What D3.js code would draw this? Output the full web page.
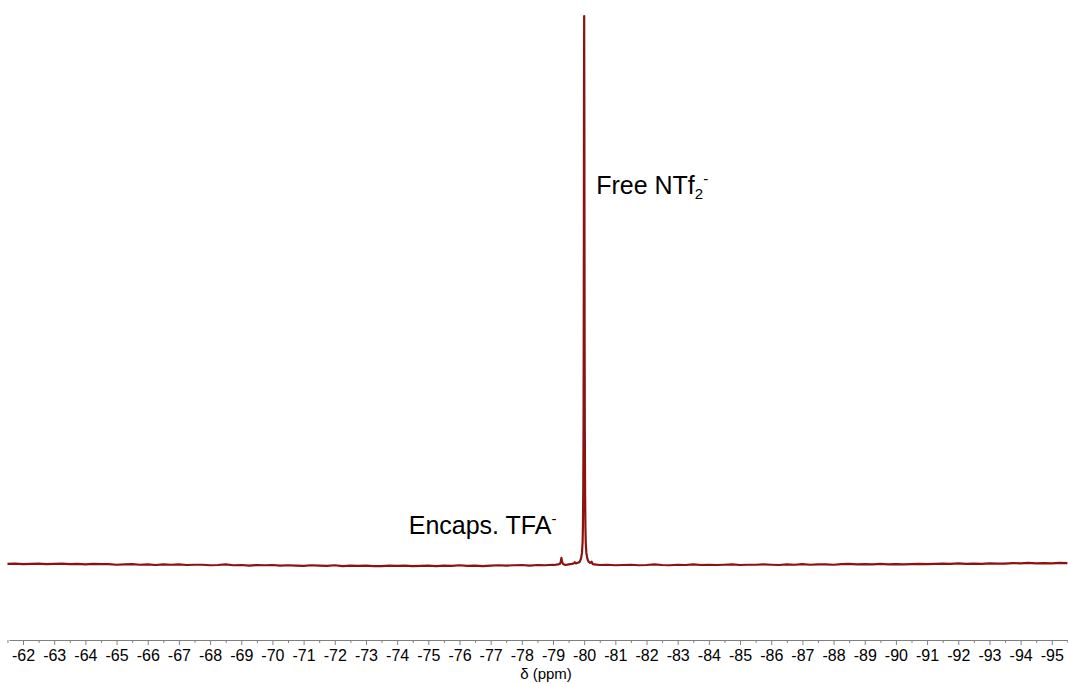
<!DOCTYPE html>
<html>
<head>
<meta charset="utf-8">
<script src="https://cdn.jsdelivr.net/npm/d3@7"></script>
<style>
  html, body { margin: 0; padding: 0; background: #fff; }
  svg { display: block; font-family: "Liberation Sans", Arial, sans-serif; }
</style>
</head>
<body>
<svg id="chart" width="1068" height="684"></svg>
<script>
// 19F NMR spectrum: chemical shift axis (ppm) and relative intensity (main peak = 1000)

// Baseline samples, every 0.25 ppm starting at -61.5 ppm
const baselineStart = -61.5;
const baselineStep = -0.25;
const baselineIntensity = [
  2, 2.5, 1.5, 2, 2.5, 1.5, 2, 2.5,
  1.5, 2, 1, 2, 1.5, 1.5, 0.5, 1,
  1.5, 0.5, 1, 0, 1, 0.5, 1, 0,
  0.5, 0.5, -0.5, 0, 1, -0.5, 0, -1,
  0, -0.5, 0, -1, -0.5, -1, -1.5, -0.5,
  -1, -1.5, -0.5, -2, -1, -1.5, -1, -2,
  -2, -1, -1.5, -1, -2, -1.5, -1, -2,
  -1, -1.5, -0.5, -1.5, -1, -2, -1, -0.5,
  -1, -0.5, 0, -1, 0, -0.5, 0.5, 0,
  0, 0.5, 0, 0, 0, 0.5, -0.5, 0,
  0.5, -0.5, 0, 1, 0, -0.5, 0.5, 0,
  1, 0, 0.5, 0, 0.5, 1, 0, 0.5,
  0.5, 1, 0.5, 0, 1, 0.5, 1.5, 0.5,
  1, 1, 0.5, 1.5, 2, 1, 1.5, 1,
  2, 1, 1.5, 1, 1.5, 2, 1.5, 2,
  2.5, 2, 3, 2, 2.5, 2, 3, 2.5,
  2.5, 3.5, 3, 4, 3, 3.5, 3, 4,
  3.5
];

// Finely sampled signal region (encapsulated TFA- and free NTf2-)
const peakPpm = [
  -79.05, -79.15, -79.22, -79.25, -79.27, -79.29, -79.32, -79.40,
  -79.50, -79.60, -79.67, -79.70, -79.73, -79.80, -79.86, -79.90,
  -79.93, -79.95, -79.96, -79.97, -79.98, -79.985, -79.99, -79.995,
  -80.00,
  -80.005, -80.01, -80.015, -80.02, -80.03, -80.04, -80.05, -80.07,
  -80.10, -80.14, -80.19, -80.22, -80.24, -80.27, -80.32
];
const peakIntensity = [
  0, 1, 2, 6, 13, 6, 2, 0,
  1, 2, 3, 5, 3, 4, 6, 12,
  22, 42, 70, 130, 260, 400, 600, 850,
  1000,
  850, 600, 400, 260, 130, 70, 42, 22,
  12, 6, 4, 5, 6, 2, 1
];

// Axis ticks
const majorTicks = d3.range(-62, -96, -1);
const minorTicks = d3.range(-61.5, -96, -0.5).filter(v => !Number.isInteger(v));

// Signal annotations
const annotations = [
  { text: "Free NTf", sub: "2", sup: "-", ppm: -80.0 },
  { text: "Encaps. TFA", sub: null, sup: "-", ppm: -79.27 }
];

const svg = d3.select("#chart");
const lineColor = "#8c1212";

const x = d3.scaleLinear().domain([-61.55, -95.52]).range([9, 1068]);
const y = d3.scaleLinear().domain([0, 1000]).range([565, 16]);

// Merge baseline and signal region into one trace
const lo = d3.min(peakPpm), hi = d3.max(peakPpm);
const trace = baselineIntensity
  .map((v, i) => ({ ppm: baselineStart + baselineStep * i, v }))
  .filter(d => d.ppm > hi || d.ppm < lo)
  .concat(peakPpm.map((p, i) => ({ ppm: p, v: peakIntensity[i] })))
  .sort((a, b) => b.ppm - a.ppm);

svg.append("path")
  .datum(trace)
  .attr("fill", "none")
  .attr("stroke", lineColor)
  .attr("stroke-width", 2.2)
  .attr("stroke-linejoin", "round")
  .attr("d", d3.line().x(d => x(d.ppm)).y(d => y(d.v)));

// x axis
const axisY = 640;
const gMinor = svg.append("g")
  .attr("transform", `translate(0,${axisY})`)
  .call(d3.axisBottom(x).tickValues(minorTicks).tickSize(3).tickFormat(""));
gMinor.select(".domain").remove();
gMinor.selectAll("line").attr("stroke", "#808080");

const gAxis = svg.append("g")
  .attr("transform", `translate(0,${axisY})`)
  .call(d3.axisBottom(x)
    .tickValues(majorTicks)
    .tickSize(5)
    .tickSizeOuter(0)
    .tickPadding(5)
    .tickFormat(d => String(d)));
gAxis.select(".domain").attr("stroke", "#808080").attr("stroke-width", 1.2);
gAxis.selectAll(".tick line").attr("stroke", "#808080");
gAxis.selectAll(".tick text")
  .attr("fill", "#000")
  .attr("font-size", 16)
  .attr("font-family", '"Liberation Sans", Arial, sans-serif');

svg.append("text")
  .attr("x", 546)
  .attr("y", 679)
  .attr("text-anchor", "middle")
  .attr("font-size", 15)
  .attr("fill", "#000")
  .text("δ (ppm)");

// Peak labels
const labelPos = [
  { dx: 12, y: 194, anchor: "start" },
  { dx: -5, y: 534, anchor: "end" }
];
annotations.forEach((a, i) => {
  const p = labelPos[i];
  const t = svg.append("text")
    .attr("x", x(a.ppm) + p.dx)
    .attr("y", p.y)
    .attr("text-anchor", p.anchor)
    .attr("font-size", 25)
    .attr("fill", "#000");
  t.append("tspan").text(a.text);
  if (a.sub) {
    t.append("tspan").attr("font-size", 15).attr("dy", 5).text(a.sub);
    t.append("tspan").attr("font-size", 15).attr("dy", -15).text(a.sup);
  } else {
    t.append("tspan").attr("font-size", 15).attr("dy", -10).text(a.sup);
  }
});
</script>
</body>
</html>
